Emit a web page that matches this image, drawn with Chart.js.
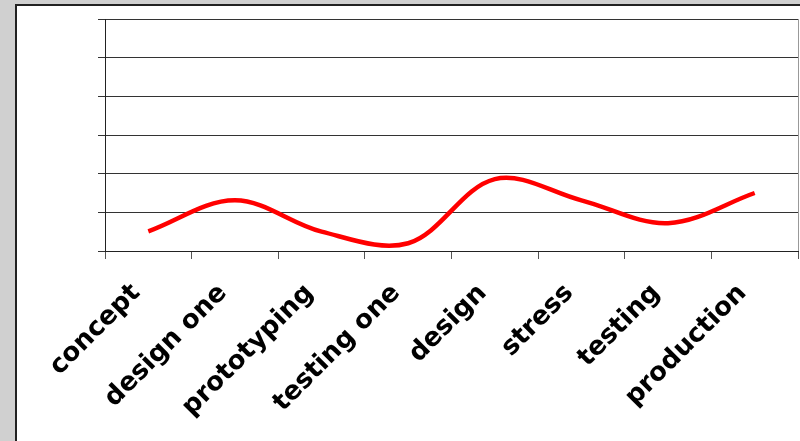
<!DOCTYPE html>
<html>
<head>
<meta charset="utf-8">
<script src="https://cdn.jsdelivr.net/npm/chart.js@4.4.0/dist/chart.umd.min.js"></script>
<style>
  html, body { margin: 0; padding: 0; background: #d0d0d0; overflow: hidden; }
  #sheet {
    position: absolute; left: 15px; top: 4px; width: 800px; height: 450px;
    background: #fff; border-top: 2px solid #222; border-left: 2px solid #222;
  }
  #phaseChart { position: absolute; left: 0; top: 0; }
</style>
</head>
<body>
<div id="sheet"></div>
<canvas id="phaseChart" width="800" height="441"></canvas>
<script>
// project phases along the bottom
var phases = ["concept", "design one", "prototyping", "testing one", "design", "stress", "testing", "production"];
// effort per phase (no scale shown)
var effort = [0.51, 1.31, 0.50, 0.20, 1.86, 1.31, 0.72, 1.50];
var yTicks = [0, 1, 2, 3, 4, 5, 6];

// thin gray frame line on the right of the plot
var rightEdge = {
    id: "rightEdge",
    afterDraw: function (chart) {
        var a = chart.chartArea, ctx = chart.ctx;
        ctx.save();
        ctx.strokeStyle = "#999";
        ctx.lineWidth = 1;
        ctx.beginPath();
        ctx.moveTo(a.right + 0.5, a.top);
        ctx.lineTo(a.right + 0.5, a.bottom);
        ctx.stroke();
        ctx.restore();
    }
};

var ctx = document.getElementById("phaseChart");
var phaseChart = new Chart(ctx, {
    type: "line",
    data: {
        labels: phases,
        datasets: [{
            data: effort,
            borderColor: "#ff0000",
            borderWidth: 4.5,
            pointRadius: 0,
            tension: 0.35,
            fill: false
        }]
    },
    options: {
        responsive: false,
        animation: false,
        devicePixelRatio: 1,
        layout: { padding: { left: 98, top: 19, right: 2, bottom: 0 } },
        plugins: { legend: { display: false }, tooltip: { enabled: false } },
        scales: {
            x: {
                offset: true,
                grid: { offset: true, drawOnChartArea: false, drawTicks: true, tickLength: 8, color: "#555" },
                border: { color: "#222", width: 1 },
                ticks: {
                    autoSkip: false,
                    minRotation: 45, maxRotation: 45, padding: 19, labelOffset: -12,
                    color: "#000",
                    font: { family: "DejaVu Sans", weight: "bold", size: 26 }
                },
                afterFit: function (s) { s.height = 190; }
            },
            y: {
                min: 0, max: 6,
                afterBuildTicks: function (s) { s.ticks = yTicks.map(function (v) { return { value: v }; }); },
                grid: { color: "#333", tickLength: 7, drawTicks: true },
                border: { color: "#222", width: 1 },
                ticks: { display: false }
            }
        }
    },
    plugins: [rightEdge]
});
</script>
</body>
</html>
